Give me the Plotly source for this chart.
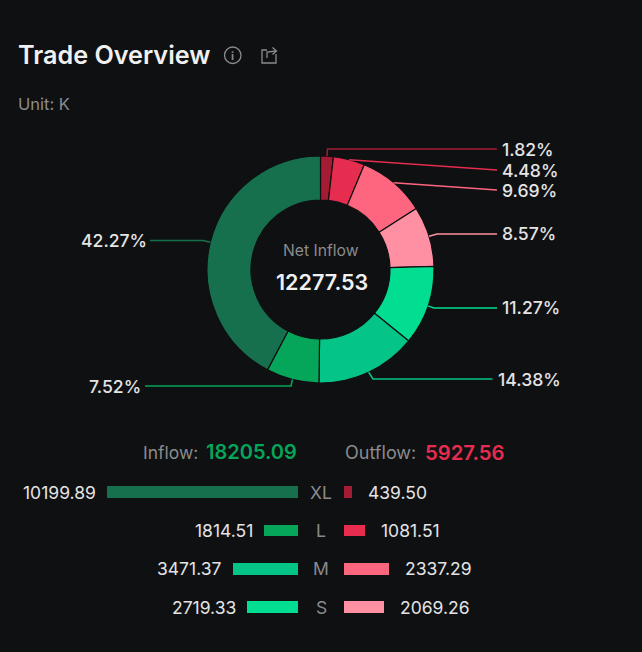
import numpy as np
import plotly.graph_objects as go

W, H = 642, 652
sizes = ["XL", "L", "M", "S"]
inflow = [10199.89, 1814.51, 3471.37, 2719.33]
outflow = [439.50, 1081.51, 2337.29, 2069.26]
in_colors = ["#16704e", "#05a55a", "#05c487", "#02de91"]
out_colors = ["#a31c33", "#e62c4f", "#fe6680", "#ff8fa2"]
inflow_total = 18205.09
outflow_total = 5927.56
net_inflow = 12277.53
title_text = "Trade Overview"
unit_text = "Unit: K"
center_label = "Net Inflow"

BG = "#0f1012"
FONT = "Inter"
GREY = "#8a8b8d"
LIGHT = "#e4e4e5"

def X(p): return p / W
def Y(p): return 1 - p / H

slice_vals = outflow + inflow[::-1]
slice_cols = out_colors + in_colors[::-1]
total = sum(slice_vals)
CX, CY, R, RI = 320.5, 269.5, 113.5, 69.5

fig = go.Figure()
fig.add_trace(go.Pie(
    values=slice_vals, sort=False, direction="clockwise", rotation=0, hole=RI / R,
    marker=dict(colors=slice_cols, line=dict(color=BG, width=1.2)),
    textinfo="none", hoverinfo="skip", showlegend=False,
    domain=dict(x=[X(CX - R), X(CX + R)], y=[Y(CY + R), Y(CY - R)]),
))

lefty = 298
righty = 344
SCALE_L, SCALE_R = 0.0187, 0.0191
fig.add_trace(go.Bar(
    x=inflow, y=sizes, orientation="h", xaxis="x", yaxis="y", width=0.31,
    marker=dict(color=in_colors, line_width=0, cornerradius=1.5),
    hoverinfo="skip", showlegend=False,
))
fig.add_trace(go.Bar(
    x=outflow, y=sizes, orientation="h", xaxis="x2", yaxis="y", width=0.31,
    marker=dict(color=out_colors, line_width=0, cornerradius=1.5),
    hoverinfo="skip", showlegend=False,
))

def note(text, x, y, size, color, anchor="left", weight=400, xref="paper", yref="paper", xshift=0):
    fig.add_annotation(text=text, x=x, y=y, xref=xref, yref=yref, xanchor=anchor, yanchor="middle",
                       showarrow=False, xshift=xshift,
                       font=dict(family=FONT, size=size, color=color, weight=weight))

note(title_text, X(15.5), Y(55), 25.2, "#f0f0f1", weight=600)
note(unit_text, X(15.5), Y(104), 16.5, GREY)

note(center_label, X(CX + 0.5), Y(250), 15.7, GREY, "center")
note(f"{net_inflow:.2f}", X(CX + 1), Y(282), 21.5, "#f0f0f1", "center", 600)

note("Inflow:", X(141), Y(452), 17.5, GREY)
note(f"{inflow_total:.2f}", X(204), Y(452), 20, "#05a55a", weight=600)
note("Outflow:", X(343), Y(452), 18, GREY)
note(f"{outflow_total:.2f}", X(422.5), Y(452), 20.3, "#e62c4f", weight=600)

for i, s in enumerate(sizes):
    note(f"{inflow[i]:.2f}", inflow[i], s, 17.5, LIGHT, "right", xref="x", yref="y", xshift=-9)
    note(f"{outflow[i]:.2f}", outflow[i], s, 17.5, LIGHT, "left", xref="x2", yref="y", xshift=14)
    note(s, X(321), s, 17.5, GREY, "center", yref="y")

label_y = [149, 170, 190, 234, 308, 379, 386, 240.5]
line_end = [497, 497, 497, 497, 497, 492.5, 145, 150]
label_x = [500, 500, 500, 500, 500, 496, 143, 149]
elbow_x = [327.5, None, None, 437, 434, 373, 291, 203]

shapes = []
cum = 0
for i, v in enumerate(slice_vals):
    a = 2 * np.pi * (cum + v / 2) / total
    cum += v
    sx, sy = CX + R * np.sin(a), CY - R * np.cos(a)
    pts = [(sx, sy)]
    if elbow_x[i] is not None:
        pts.append((elbow_x[i], label_y[i]))
    pts.append((line_end[i], label_y[i]))
    path = "M " + " L ".join(f"{X(px):.5f},{Y(py):.5f}" for px, py in pts)
    shapes.append(dict(type="path", path=path, xref="paper", yref="paper",
                       line=dict(color=slice_cols[i], width=1.5)))
    pct = f"{v / total * 100:.2f}%"
    note(pct, X(label_x[i]), Y(label_y[i]), 17.6, LIGHT, "left" if label_x[i] > CX else "right", weight=500)

ICON = "#8a8b8d"
shapes.append(dict(type="circle", xref="paper", yref="paper", x0=X(224.5), x1=X(241), y0=Y(47), y1=Y(63.5),
                   line=dict(color=ICON, width=1.3)))
note("i", X(232.7), Y(55.5), 11, ICON, "center", weight=700)
share = [(276, 54), (276, 63), (262, 63), (262, 50), (267, 50)]
shapes.append(dict(type="path", xref="paper", yref="paper",
                   path="M " + " L ".join(f"{X(a):.5f},{Y(b):.5f}" for a, b in share),
                   line=dict(color=ICON, width=1.3)))
arrow = [(267, 58), (267, 52), (276, 51)]
shapes.append(dict(type="path", xref="paper", yref="paper",
                   path="M " + " L ".join(f"{X(a):.5f},{Y(b):.5f}" for a, b in arrow),
                   line=dict(color=ICON, width=1.3)))
head = [(272.5, 47.5), (276.5, 51), (272.5, 54.5)]
shapes.append(dict(type="path", xref="paper", yref="paper",
                   path="M " + " L ".join(f"{X(a):.5f},{Y(b):.5f}" for a, b in head),
                   line=dict(color=ICON, width=1.3)))

fig.update_layout(
    width=W, height=H, autosize=False, margin=dict(l=0, r=0, t=0, b=0),
    paper_bgcolor=BG, plot_bgcolor=BG, bargap=0, shapes=shapes,
    xaxis=dict(domain=[0, X(lefty)], range=[lefty / SCALE_L, 0], visible=False, fixedrange=True),
    xaxis2=dict(domain=[X(righty), 1], range=[0, (W - righty) / SCALE_R], visible=False, fixedrange=True),
    yaxis=dict(domain=[Y(626.3), Y(473)], categoryorder="array", categoryarray=sizes[::-1], visible=False, fixedrange=True),
)
fig.write_html("out.html", config=dict(displayModeBar=False),
               post_script="document.body.style.margin='0';document.body.style.background='%s';" % BG)
